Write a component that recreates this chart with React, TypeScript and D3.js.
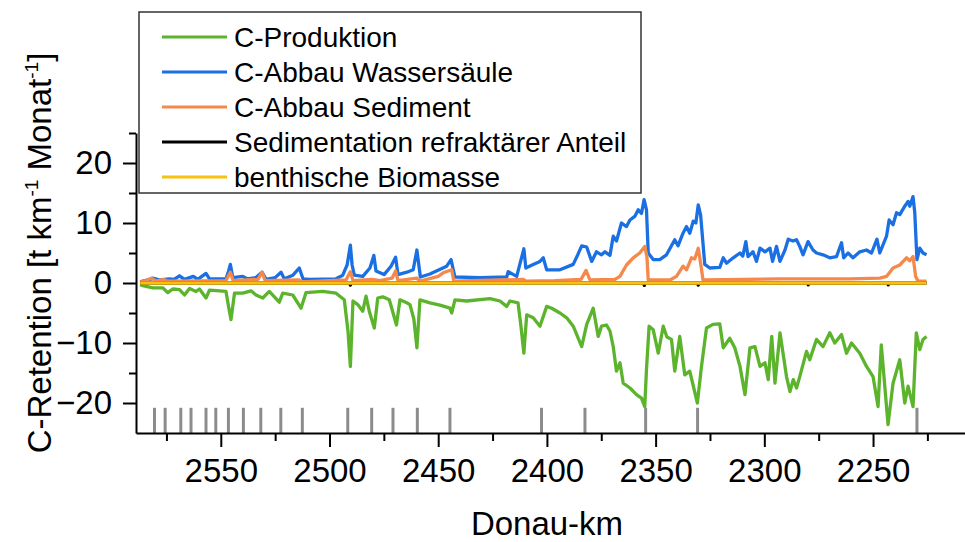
import { useEffect, useRef } from 'react'
import * as d3 from 'd3'

// C-Produktion (negative = retention by production)
const prodKm = [2587.1, 2585.9, 2581.3, 2576.7, 2574.4, 2572.1, 2569.0, 2566.7, 2564.4, 2561.4, 2559.8, 2556.8, 2555.2, 2547.6, 2546.4, 2545.3, 2543.7, 2539.9, 2536.1, 2533.8, 2530.7, 2527.7, 2523.1, 2521.5, 2516.9, 2513.1, 2510.8, 2503.1, 2497.0, 2493.2, 2491.5, 2490.4, 2489.2, 2487.0, 2484.7, 2483.2, 2481.7, 2479.4, 2477.8, 2475.5, 2472.5, 2469.2, 2467.6, 2464.5, 2463.0, 2461.2, 2459.8, 2458.4, 2453.8, 2449.2, 2444.6, 2443.8, 2442.3, 2436.9, 2426.2, 2421.6, 2418.5, 2417.0, 2413.3, 2412.0, 2410.6, 2409.3, 2406.3, 2403.2, 2400.1, 2397.8, 2394.0, 2390.9, 2387.9, 2384.0, 2381.7, 2378.7, 2376.4, 2374.9, 2372.6, 2371.0, 2369.5, 2368.0, 2366.4, 2364.9, 2361.8, 2358.8, 2356.5, 2355.0, 2354.2, 2353.0, 2351.1, 2348.8, 2346.5, 2344.8, 2342.7, 2341.2, 2338.9, 2336.6, 2334.3, 2330.8, 2328.9, 2326.6, 2323.6, 2320.5, 2318.9, 2315.9, 2313.6, 2311.2, 2308.9, 2306.6, 2304.3, 2302.0, 2299.7, 2298.2, 2296.6, 2295.1, 2292.8, 2289.8, 2288.2, 2286.7, 2285.2, 2283.7, 2280.6, 2279.1, 2276.0, 2273.0, 2269.9, 2267.6, 2264.5, 2262.2, 2259.9, 2256.1, 2253.0, 2250.0, 2247.7, 2246.2, 2243.1, 2240.8, 2237.7, 2235.4, 2233.9, 2231.6, 2230.1, 2228.5, 2227.0, 2225.4]
const prodVal = [-0.3, -0.45, -0.8, -0.8, -1.6, -1.0, -1.1, -2.0, -0.9, -1.4, -1.0, -2.5, -1.2, -1.4, -4.0, -6.1, -1.7, -1.7, -1.3, -2.0, -2.5, -1.4, -3.2, -1.7, -2.0, -4.2, -1.6, -1.4, -1.7, -2.8, -8.0, -13.9, -3.0, -3.6, -4.7, -2.2, -4.7, -7.5, -2.5, -2.3, -2.8, -7.0, -2.8, -3.3, -3.6, -6.0, -10.8, -2.8, -3.3, -3.7, -4.2, -5.0, -2.8, -3.0, -2.6, -3.0, -3.9, -3.0, -3.3, -7.0, -11.7, -5.3, -5.8, -7.2, -3.9, -4.2, -5.0, -5.8, -7.2, -10.6, -6.9, -4.2, -8.9, -7.2, -7.0, -8.0, -10.6, -14.7, -13.3, -16.7, -17.5, -18.6, -19.2, -20.6, -14.4, -7.2, -7.8, -11.7, -7.2, -9.0, -9.4, -14.7, -8.9, -15.3, -14.7, -20.0, -13.9, -7.5, -6.9, -6.8, -10.8, -9.2, -10.8, -13.9, -18.6, -10.8, -10.6, -13.9, -13.3, -16.1, -8.9, -16.7, -8.3, -15.6, -18.1, -16.1, -17.5, -15.6, -11.4, -12.8, -9.4, -10.6, -8.3, -10.0, -8.6, -11.7, -10.0, -11.7, -13.9, -15.6, -20.6, -10.3, -23.6, -16.7, -12.8, -20.0, -17.2, -20.6, -8.3, -11.1, -9.4, -8.9]

// C-Abbau Wassersäule
const waterKm = [2587.1, 2585.9, 2582.8, 2581.3, 2577.9, 2573.6, 2571.5, 2569.0, 2566.7, 2562.6, 2560.6, 2556.8, 2555.2, 2547.6, 2546.4, 2545.6, 2544.5, 2539.9, 2537.9, 2533.8, 2531.0, 2529.2, 2525.0, 2522.3, 2520.8, 2516.8, 2513.9, 2512.2, 2509.3, 2497.0, 2493.9, 2491.9, 2490.4, 2489.6, 2488.6, 2484.7, 2481.4, 2479.6, 2478.6, 2474.9, 2471.7, 2469.6, 2468.5, 2464.4, 2461.5, 2459.8, 2458.2, 2453.8, 2446.1, 2444.1, 2442.3, 2430.8, 2418.5, 2417.8, 2413.9, 2410.6, 2409.7, 2406.3, 2403.2, 2401.7, 2400.1, 2394.0, 2387.9, 2385.7, 2384.0, 2381.7, 2379.4, 2377.2, 2374.9, 2373.3, 2371.0, 2369.5, 2368.0, 2365.7, 2363.4, 2361.8, 2359.6, 2358.0, 2356.5, 2355.3, 2354.2, 2353.4, 2351.1, 2348.1, 2345.0, 2341.2, 2339.7, 2337.4, 2335.8, 2334.3, 2332.7, 2331.5, 2330.4, 2329.3, 2327.4, 2325.1, 2320.5, 2318.9, 2317.4, 2314.3, 2311.2, 2309.9, 2308.5, 2307.5, 2305.2, 2303.6, 2302.0, 2299.7, 2297.4, 2296.2, 2294.4, 2292.8, 2290.5, 2289.0, 2286.8, 2285.2, 2283.7, 2282.2, 2279.9, 2277.6, 2276.0, 2273.0, 2269.9, 2266.8, 2264.5, 2263.5, 2261.5, 2259.2, 2256.1, 2253.0, 2250.7, 2248.2, 2246.9, 2243.8, 2242.6, 2240.8, 2239.2, 2237.7, 2235.4, 2233.9, 2233.1, 2231.6, 2230.8, 2229.8, 2228.5, 2227.0, 2225.4]
const waterVal = [0.2, 0.3, 0.55, 0.8, 0.5, 0.7, 0.6, 1.2, 0.6, 1.1, 0.6, 1.6, 0.7, 0.7, 2.0, 3.1, 0.9, 1.1, 0.7, 0.9, 1.8, 0.6, 0.9, 1.8, 0.7, 1.3, 2.5, 0.7, 0.6, 0.7, 1.3, 3.0, 6.3, 3.0, 1.3, 1.1, 2.5, 4.6, 2.0, 1.4, 2.8, 4.3, 1.4, 1.8, 2.2, 5.5, 1.0, 1.5, 2.8, 3.9, 1.0, 0.9, 1.0, 1.9, 1.1, 5.7, 2.5, 3.1, 3.6, 4.2, 2.2, 2.2, 3.1, 4.8, 6.2, 6.0, 3.6, 5.2, 4.7, 5.2, 4.6, 7.8, 7.0, 10.0, 9.4, 10.5, 11.1, 12.2, 11.6, 13.9, 12.2, 5.0, 3.9, 3.9, 4.7, 7.2, 6.2, 8.3, 9.4, 8.3, 10.3, 10.0, 13.0, 11.3, 3.1, 2.5, 2.6, 4.2, 3.3, 4.2, 5.0, 4.5, 6.9, 4.4, 5.2, 3.6, 5.8, 5.2, 5.8, 3.6, 6.1, 3.6, 5.5, 7.3, 7.0, 7.2, 6.1, 4.7, 6.9, 5.5, 5.0, 4.7, 4.2, 4.4, 6.7, 4.2, 5.0, 4.2, 5.2, 5.5, 5.0, 7.3, 5.0, 7.8, 10.5, 9.7, 11.7, 11.4, 12.8, 13.6, 12.8, 14.4, 11.7, 3.9, 5.8, 5.0, 4.7]

// C-Abbau Sediment
const sedKm = [2587.1, 2584.3, 2582.0, 2579.7, 2576.5, 2574.2, 2547.6, 2545.6, 2544.3, 2532.9, 2531.0, 2529.6, 2514.0, 2513.1, 2492.4, 2490.4, 2489.2, 2480.4, 2476.8, 2471.2, 2469.6, 2468.5, 2459.8, 2458.4, 2450.0, 2447.7, 2443.8, 2442.8, 2410.9, 2409.7, 2396.3, 2384.3, 2382.0, 2380.2, 2368.7, 2366.4, 2363.4, 2360.3, 2357.3, 2355.0, 2354.0, 2353.4, 2343.4, 2340.4, 2337.4, 2335.8, 2333.5, 2332.0, 2330.4, 2329.3, 2328.2, 2292.8, 2260.6, 2246.9, 2243.8, 2240.8, 2237.7, 2234.6, 2233.1, 2231.6, 2230.4, 2229.3, 2225.4]
const sedVal = [0.2, 0.4, 0.8, 0.3, 0.6, 0.3, 0.4, 1.8, 0.4, 0.6, 1.8, 0.4, 0.5, 0.2, 0.5, 1.9, 0.4, 0.6, 0.4, 0.8, 2.0, 0.4, 0.8, 0.3, 1.1, 1.7, 2.2, 0.3, 0.6, 0.3, 0.4, 0.6, 2.1, 0.5, 0.6, 1.1, 3.0, 4.2, 5.0, 6.1, 4.4, 0.5, 0.5, 1.1, 2.8, 2.2, 4.2, 4.0, 5.8, 3.3, 0.5, 0.7, 0.7, 0.8, 1.1, 2.5, 3.0, 4.2, 3.7, 4.4, 1.1, 0.3, 0.3]

// Sedimentation refraktärer Anteil
const refrKm = [2587.1, 2490.6, 2490.4, 2490.2, 2355.4, 2355.2, 2355.0, 2330.6, 2330.4, 2330.2, 2280.0, 2279.8, 2279.6, 2243.2, 2243.0, 2242.8, 2225.4]
const refrVal = [0, 0, -0.35, 0, 0, -0.4, 0, 0, -0.35, 0, 0, -0.3, 0, 0, -0.3, 0, 0]

// benthische Biomasse
const bioKm = [2587.1, 2490.0, 2400.0, 2300.0, 2225.4]
const bioVal = [0, 0, 0, 0, 0]

// Staustufen (grey marks)
const damKm = [2580.5, 2575.6, 2568.4, 2563.7, 2556.8, 2552.3, 2546.5, 2539.6, 2531.6, 2522.4, 2512.5, 2491.6, 2480.6, 2470.8, 2459.6, 2444.6, 2402.5, 2382.5, 2354.6, 2330.7, 2229.8]

const seriesNames = ['C-Produktion', 'C-Abbau Wassersäule', 'C-Abbau Sediment', 'Sedimentation refraktärer Anteil', 'benthische Biomasse']
const seriesColors = ['#5bb42c', '#1a70e3', '#f5894c', '#000000', '#f8c10f']

const xTicks = [2550, 2500, 2450, 2400, 2350, 2300, 2250]
const xMinorTicks = [2575, 2525, 2475, 2425, 2375, 2325, 2275, 2225]
const yTicks = [-20, -10, 0, 10, 20]
const yMinorTicks = [-15, -5, 5, 15, 25]

const font = "'Liberation Sans', Arial, sans-serif"

const Chart = () => {
	const svgRef = useRef(null)

	useEffect(() => {
		const width = 965
		const height = 542

		const svg = d3.select(svgRef.current)
		svg.selectAll('*').remove()
		svg.attr('width', width).attr('height', height).attr('viewBox', `0 0 ${width} ${height}`)

		const x = d3.scaleLinear().domain([2589, 2207.7]).range([136, 965])
		const y = d3.scaleLinear().domain([-25, 25]).range([433, 133])

		const series = [
			{ km: prodKm, val: prodVal },
			{ km: waterKm, val: waterVal },
			{ km: sedKm, val: sedVal },
			{ km: refrKm, val: refrVal },
			{ km: bioKm, val: bioVal },
		]

		const line = d3
			.line()
			.x((d) => x(d[0]))
			.y((d) => y(d[1]))

		series.forEach((s, i) => {
			svg
				.append('path')
				.datum(s.km.map((k, j) => [k, s.val[j]]))
				.attr('d', line)
				.attr('fill', 'none')
				.attr('stroke', seriesColors[i])
				.attr('stroke-width', i === 4 ? 3.6 : 3.3)
				.attr('stroke-linejoin', 'round')
		})

		// grey dam marks
		svg
			.append('g')
			.selectAll('line')
			.data(damKm)
			.join('line')
			.attr('x1', (d) => x(d))
			.attr('x2', (d) => x(d))
			.attr('y1', y(-20.8))
			.attr('y2', y(-25))
			.attr('stroke', '#8c8c8c')
			.attr('stroke-width', 3)

		// Axes
		const xAxis = svg.append('g').attr('transform', `translate(0,${y(-25)})`)
		xAxis.call(d3.axisBottom(x).tickValues(xTicks).tickSize(14).tickSizeOuter(0).tickPadding(12).tickFormat(d3.format('d')))
		xAxis.append('g').call(d3.axisBottom(x).tickValues(xMinorTicks).tickSize(8).tickFormat(() => '')).select('.domain').remove()

		const yAxis = svg.append('g').attr('transform', `translate(${x(2589)},0)`)
		yAxis.call(d3.axisLeft(y).tickValues(yTicks).tickSize(13).tickSizeOuter(0).tickPadding(11).tickFormat(d3.format('d')))
		yAxis.append('g').call(d3.axisLeft(y).tickValues(yMinorTicks).tickSize(7).tickFormat(() => '')).select('.domain').remove()

		svg.selectAll('.domain').attr('stroke', '#000').attr('stroke-width', 2)
		svg.selectAll('.tick line').attr('stroke', '#000').attr('stroke-width', 2)
		svg.selectAll('.tick text').style('font-family', font).style('font-size', '33px').attr('fill', '#000')

		// Axis titles
		svg
			.append('text')
			.attr('x', 547)
			.attr('y', 535)
			.attr('text-anchor', 'middle')
			.style('font-family', font)
			.style('font-size', '33px')
			.text('Donau-km')

		const yt = svg
			.append('text')
			.attr('transform', 'translate(51,253) rotate(-90)')
			.attr('text-anchor', 'middle')
			.style('font-family', font)
			.style('font-size', '33px')
		yt.append('tspan').text('C-Retention [t km')
		yt.append('tspan').attr('dy', -13).style('font-size', '19px').text('-1')
		yt.append('tspan').attr('dy', 13).text(' Monat')
		yt.append('tspan').attr('dy', -13).style('font-size', '19px').text('-1')
		yt.append('tspan').attr('dy', 13).text(']')

		// Legend
		const lg = svg.append('g')
		lg.append('rect')
			.attr('x', 139)
			.attr('y', 12)
			.attr('width', 502)
			.attr('height', 181)
			.attr('fill', '#fff')
			.attr('stroke', '#333')
			.attr('stroke-width', 1.5)
		seriesNames.forEach((name, i) => {
			const ly = 37 + i * 35
			lg.append('line')
				.attr('x1', 162)
				.attr('x2', 227)
				.attr('y1', ly)
				.attr('y2', ly)
				.attr('stroke', seriesColors[i])
				.attr('stroke-width', 3)
			lg.append('text')
				.attr('x', 234)
				.attr('y', ly)
				.attr('dy', '0.35em')
				.style('font-family', font)
				.style('font-size', '28px')
				.text(name)
		})
	}, [])

	return <svg ref={svgRef} style={{ position: 'absolute', left: 0, top: 0 }}></svg>
}

export default function App() {
	return <Chart />
}
